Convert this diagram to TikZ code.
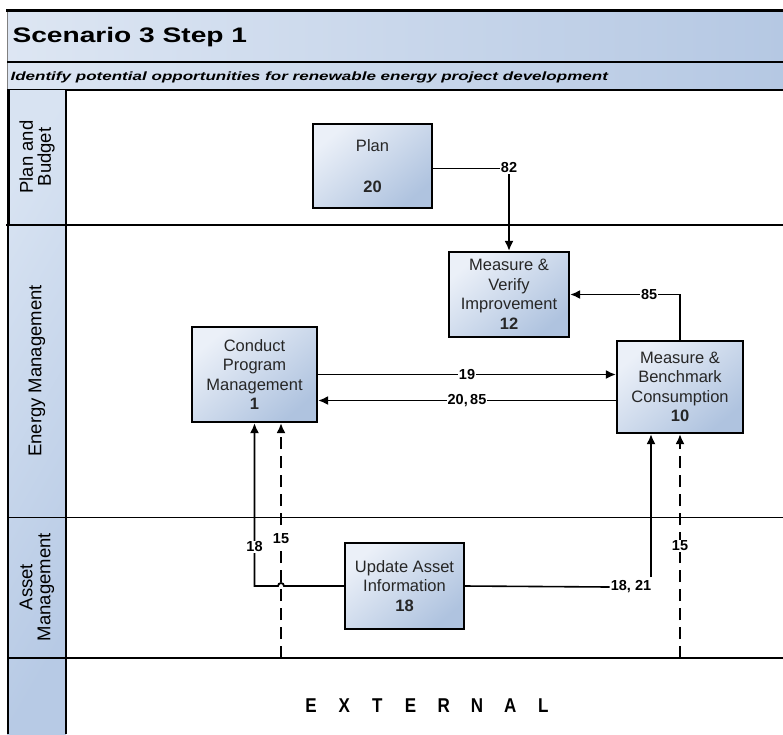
\documentclass[tikz,border=0pt]{standalone}
\usepackage{fontspec}
\setmainfont{Liberation Sans}
\usetikzlibrary{arrows.meta}
\usetikzlibrary{calc}
\usetikzlibrary{positioning}

\definecolor{boxlight}{HTML}{EBF0F8}
\definecolor{boxdark}{HTML}{AFC3DF}
\definecolor{barlight}{HTML}{DDE6F3}
\definecolor{bardark}{HTML}{B5C8E3}
\definecolor{lanelight}{HTML}{D8E3F2}
\definecolor{lanedark}{HTML}{B7CAE5}
\definecolor{boxtext}{HTML}{262626}

\tikzset{
  procbox/.style={draw=black, line width=2.2pt, top color=boxlight, bottom color=boxdark,
    shading angle=40, align=center, inner sep=0pt, text=boxtext,
    font=\fontsize{16.5}{19.5}\selectfont},
  flow/.style={line width=1.8pt, -{Latex[length=10pt,width=9pt]}},
  flowlbl/.style={font=\fontsize{14.5}{14.5}\selectfont\bfseries, fill=white, inner sep=1pt},
  lanehead/.style={rotate=90, align=center, font=\fontsize{18.5}{18}\selectfont},
  laneline/.style={line width=2pt}
}

\begin{document}
\begin{tikzpicture}[x=1pt, y=-1pt]

  \useasboundingbox (0,0) rectangle (783,734);

  % Title and subtitle bars
  \shade[left color=barlight, right color=bardark] (7,10) rectangle (783,62);
  \shade[left color=barlight, right color=bardark] (7,62) rectangle (783,90);
  \draw[gray, line width=1pt] (7,10) -- (7,90);
  \draw[line width=3pt] (6,10) -- (783,10);
  \draw[line width=2.5pt] (7,62) -- (783,62);
  \draw[line width=2.5pt] (7,90) -- (783,90);
  \node[anchor=west, font=\fontsize{21}{24}\selectfont\bfseries] (title) at (9,37)
    {\scalebox{1.34}[1]{Scenario 3 Step 1}};
  \node[anchor=west, font=\fontsize{12}{14}\selectfont\bfseries\itshape] (subtitle) at (7,77)
    {\scalebox{1.42}[1]{Identify potential opportunities for renewable energy project development}};

  % Lane header column
  \shade[top color=lanelight, bottom color=lanedark, shading angle=60] (7,90) rectangle (66,734);
  \draw[line width=3pt] (8,90) -- (8,225);
  \draw[line width=1.5pt] (8,225) -- (8,734);
  \draw[line width=2.5pt] (66,90) -- (66,734);

  % Lane lines
  \draw[laneline] (6,225) -- (783,225);
  \draw[line width=1pt] (7,517) -- (783,517);
  \draw[laneline] (7,658) -- (783,658);

  \node[lanehead] (hplan) at (37,157) {Plan and\\Budget};
  \node[lanehead] (henergy) at (37,371) {Energy Management};
  \node[lanehead] (hasset) at (37,587) {Asset\\Management};

  % Process boxes
  \node[procbox, minimum width=119pt, minimum height=84pt] (plan) at (372.5,166)
    {Plan\\[21pt]\textbf{20}};
  \node[procbox, minimum width=120pt, minimum height=85pt] (mvi) at (509,294.5)
    {Measure \&\\Verify\\Improvement\\\textbf{12}};
  \node[procbox, minimum width=125pt, minimum height=95pt] (cpm) at (254.5,374.5)
    {Conduct\\Program\\Management\\\textbf{1}};
  \node[procbox, minimum width=126pt, minimum height=92pt] (mbc) at (680,387)
    {Measure \&\\Benchmark\\Consumption\\\textbf{10}};
  \node[procbox, minimum width=119pt, minimum height=86pt] (uai) at (404.5,586)
    {Update Asset\\Information\\\textbf{18}};

  % Flows in the upper lanes
  \node[flowlbl] (l82) at (509,168) {82};
  \draw[line width=1pt] (plan.east |- l82) -- (l82.west);
  \draw[flow] (l82.south) -- (mvi.north);

  \draw[flow] (mbc.north) |- (mvi.east) node[flowlbl, pos=0.64] {85};

  \draw[flow] (cpm.east) -- (cpm.east -| mbc.west) node[flowlbl, midway] {19};
  \coordinate (c2085) at ([yshift=-26pt]cpm.east);
  \draw[flow] (c2085 -| mbc.west) -- (c2085) node[flowlbl, midway] {20,\,85};

  % Flows from asset management and external
  \draw[flow] (uai.west) -- (284,586) arc[start angle=0, end angle=180, radius=3pt]
    -- (cpm.south |- uai.west) -- (cpm.south) node[flowlbl, pos=0.24] {18};

  \coordinate (ext15a) at (281,658);
  \draw[flow, dash pattern=on 12pt off 7pt] (ext15a) -- (ext15a |- cpm.south)
    node[flowlbl, pos=0.51] {15};

  \node[flowlbl, fill=none] (l1821) at (631,587) {18, 21};
  \draw[line width=1.6pt] (uai.east) -- (l1821.west);
  \coordinate (c1821) at (651,577);
  \draw[flow] (c1821) -- (c1821 |- mbc.south);

  \coordinate (ext15b) at (680,658);
  \draw[flow, dash pattern=on 12pt off 7pt] (ext15b) -- (mbc.south)
    node[flowlbl, pos=0.5] {15};

  % External lane
  \foreach \ch [count=\i] in {E,X,T,E,R,N,A,L}
    \node[font=\fontsize{20}{20}\selectfont\bfseries] (ext\i) at (311+33.2*\i-33.2,706)
      {\scalebox{0.85}[1]{\ch}};

\end{tikzpicture}
\end{document}
